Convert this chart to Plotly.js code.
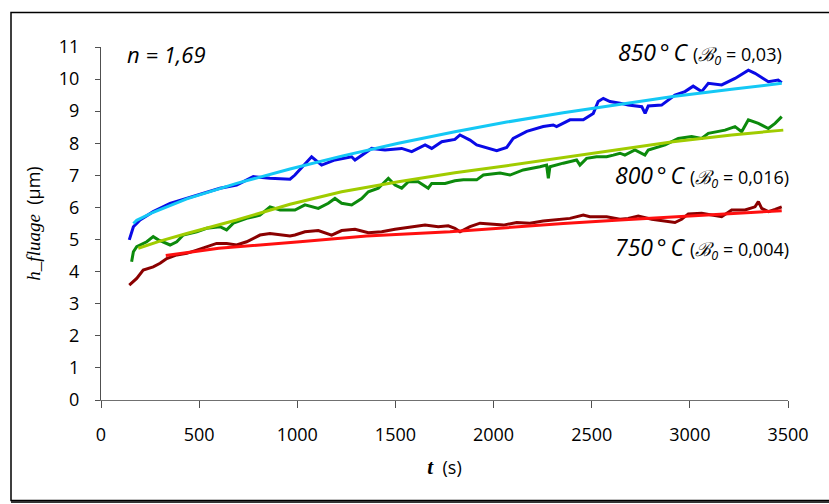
<!DOCTYPE html>
<html>
<head>
<meta charset="utf-8">
<script src="https://cdn.plot.ly/plotly-3.0.1.min.js"></script>
<style>html,body{margin:0;padding:0;background:#fff;}#chart{width:829px;height:504px;}</style>
</head>
<body>
<div id="chart"></div>
<script>
const t850 = [144,165,199,266,352,437,521,606,691,776,861,963,988,1073,1124,1192,1277,1294,1379,1447,1532,1583,1651,1685,1736,1803,1829,1880,1914,1982,2016,2067,2100,2169,2253,2304,2321,2389,2457,2508,2533,2559,2593,2644,2686,2755,2772,2788,2856,2924,2975,3017,3060,3094,3162,3230,3298,3332,3400,3450,3468];
const h850 = [4.99,5.40,5.61,5.87,6.13,6.28,6.44,6.60,6.70,6.96,6.91,6.88,7.01,7.58,7.32,7.48,7.58,7.48,7.84,7.79,7.84,7.74,7.95,7.84,8.05,8.12,8.26,8.10,7.95,7.84,7.77,7.87,8.15,8.37,8.52,8.57,8.52,8.73,8.73,8.93,9.30,9.40,9.30,9.25,9.19,9.14,8.93,9.16,9.19,9.50,9.61,9.78,9.61,9.87,9.82,10.02,10.28,10.18,9.92,9.97,9.89];

const t800 = [156,165,182,233,266,292,352,386,419,488,538,606,640,674,742,810,861,912,963,988,1039,1073,1107,1158,1192,1226,1277,1328,1362,1413,1464,1498,1532,1566,1616,1667,1685,1753,1803,1846,1914,1948,2033,2084,2151,2236,2270,2279,2287,2355,2423,2440,2474,2525,2576,2610,2644,2669,2720,2771,2788,2874,2941,3009,3060,3094,3179,3230,3264,3298,3349,3400,3434,3468];
const h800 = [4.31,4.62,4.78,4.93,5.09,4.99,4.83,4.93,5.14,5.24,5.35,5.40,5.30,5.51,5.66,5.76,6.02,5.92,5.92,5.92,6.08,6.02,5.97,6.13,6.28,6.13,6.08,6.28,6.49,6.60,6.91,6.70,6.60,6.80,6.80,6.60,6.75,6.75,6.83,6.86,6.86,7.01,7.07,7.01,7.17,7.27,7.32,6.91,7.27,7.38,7.48,7.32,7.53,7.58,7.58,7.63,7.69,7.63,7.79,7.63,7.79,7.95,8.15,8.21,8.15,8.31,8.41,8.52,8.36,8.73,8.62,8.46,8.62,8.83];

const t750 = [144,182,215,266,301,335,386,437,488,538,589,640,691,742,776,810,861,912,963,988,1039,1107,1175,1226,1294,1362,1430,1498,1583,1651,1718,1769,1803,1829,1880,1931,1999,2050,2118,2185,2253,2338,2389,2457,2491,2576,2644,2686,2737,2806,2874,2924,2958,2992,3060,3128,3162,3213,3281,3332,3349,3366,3400,3434,3468];
const h750 = [3.58,3.79,4.05,4.15,4.26,4.41,4.52,4.57,4.67,4.78,4.88,4.88,4.83,4.93,5.04,5.14,5.19,5.14,5.11,5.14,5.24,5.28,5.14,5.28,5.32,5.21,5.24,5.32,5.40,5.45,5.40,5.43,5.35,5.24,5.40,5.51,5.48,5.45,5.53,5.51,5.58,5.63,5.66,5.76,5.71,5.71,5.63,5.66,5.73,5.63,5.56,5.53,5.63,5.80,5.82,5.76,5.71,5.92,5.92,6.02,6.18,5.97,5.87,5.94,6.02];

// ---- fitted curves ----
const t850fit = [165,182,266,352,437,691,963,1226,1515,1803,2067,2355,2644,2914,3213,3468];
const h850fit = [5.50,5.60,5.85,6.07,6.27,6.75,7.20,7.60,8.00,8.36,8.66,8.95,9.22,9.46,9.68,9.87];

const t800fit = [190,300,437,691,963,1226,1515,1803,2067,2355,2644,2914,3213,3476];
const h800fit = [4.73,4.95,5.19,5.61,6.10,6.49,6.80,7.08,7.30,7.56,7.81,8.05,8.26,8.41];

const t750fit = [330,411,600,1013,1353,1778,2067,2355,2644,2914,3213,3468];
const h750fit = [4.50,4.57,4.73,4.93,5.11,5.24,5.38,5.50,5.61,5.71,5.81,5.90];

const xTicks = [0,500,1000,1500,2000,2500,3000,3500];
const yTicks = [0,1,2,3,4,5,6,7,8,9,10,11];

const traces = [
  {x:t850, y:h850, mode:'lines', line:{color:'#0a0ae6', width:3}},
  {x:t800, y:h800, mode:'lines', line:{color:'#0c8a0c', width:3}},
  {x:t750, y:h750, mode:'lines', line:{color:'#8a0000', width:3}},
  {x:t850fit, y:h850fit, mode:'lines', line:{color:'#14c8f5', width:3}},
  {x:t800fit, y:h800fit, mode:'lines', line:{color:'#a0cc00', width:3}},
  {x:t750fit, y:h750fit, mode:'lines', line:{color:'#ff1010', width:3}}
];

const px = v => (v-101)/687;
const py = v => (400-v)/353;
const small = 'font-size:18px';
const bsym = '<span style="font-family:DejaVu Serif;font-size:19px">ℬ</span>';
const deg = '\u2009°\u2009C';

const layout = {
  width:829, height:504,
  margin:{l:101, r:41, t:47, b:104},
  paper_bgcolor:'#ffffff', plot_bgcolor:'#ffffff',
  showlegend:false,
  font:{family:'Open Sans, sans-serif', color:'#000'},
  xaxis:{
    range:[0,3500], tickvals:xTicks, ticktext:xTicks.map(String),
    showgrid:false, zeroline:false, showline:true, linecolor:'#707070', linewidth:1,
    ticks:'outside', ticklen:7, tickcolor:'#505050', tickwidth:1,
    tickfont:{family:'Open Sans, sans-serif', size:18, color:'#000'},
    ticklabelstandoff:11,
    title:{text:'<b><i><span style="font-family:Liberation Serif;font-size:21px">t</span></i></b>  (s)', font:{family:'Open Sans, sans-serif', size:18, color:'#000'}, standoff:16}
  },
  yaxis:{
    range:[0,11], tickvals:yTicks, ticktext:yTicks.map(String),
    showgrid:false, zeroline:false, showline:true, linecolor:'#505050', linewidth:1,
    ticks:'outside', ticklen:5, tickcolor:'#505050', tickwidth:1,
    tickfont:{family:'Open Sans, sans-serif', size:18, color:'#000'},
    ticklabelstandoff:12,
    title:{text:'<i><span style="font-family:Liberation Serif;font-size:19px">h_fluage</span></i>  (µm)', font:{family:'Open Sans, sans-serif', size:18, color:'#000'}, standoff:13}
  },
  annotations:[
    {xref:'paper', yref:'paper', x:px(125), y:py(54), xanchor:'left', yanchor:'middle', showarrow:false,
     text:'<i>n = 1,69</i>', font:{family:'Open Sans, sans-serif', size:22, color:'#000'}},
    {xref:'paper', yref:'paper', x:px(784), y:py(52), xanchor:'right', yanchor:'middle', showarrow:false,
     text:'<i>850'+deg+'</i> <span style="'+small+'">(<i>'+bsym+'<sub>0</sub></i> = 0,03)</span>',
     font:{family:'Open Sans, sans-serif', size:23, color:'#000'}},
    {xref:'paper', yref:'paper', x:px(791), y:py(175), xanchor:'right', yanchor:'middle', showarrow:false,
     text:'<i>800'+deg+'</i> <span style="'+small+'">(<i>'+bsym+'<sub>0</sub></i> = 0,016)</span>',
     font:{family:'Open Sans, sans-serif', size:23, color:'#000'}},
    {xref:'paper', yref:'paper', x:px(791), y:py(247), xanchor:'right', yanchor:'middle', showarrow:false,
     text:'<i>750'+deg+'</i> <span style="'+small+'">(<i>'+bsym+'<sub>0</sub></i> = 0,004)</span>',
     font:{family:'Open Sans, sans-serif', size:23, color:'#000'}}
  ],
  shapes:[
    {type:'rect', xref:'paper', yref:'paper', x0:px(11), x1:px(840), y0:py(500.5), y1:py(12.5),
     line:{color:'#000', width:1.5}, fillcolor:'rgba(0,0,0,0)', layer:'above'},
    {type:'line', xref:'paper', yref:'paper', x0:px(11), x1:px(840), y0:py(502), y1:py(502),
     line:{color:'#333', width:2}, layer:'above'}
  ]
};

Plotly.newPlot('chart', traces, layout, {displayModeBar:false, staticPlot:true});
</script>
</body>
</html>
